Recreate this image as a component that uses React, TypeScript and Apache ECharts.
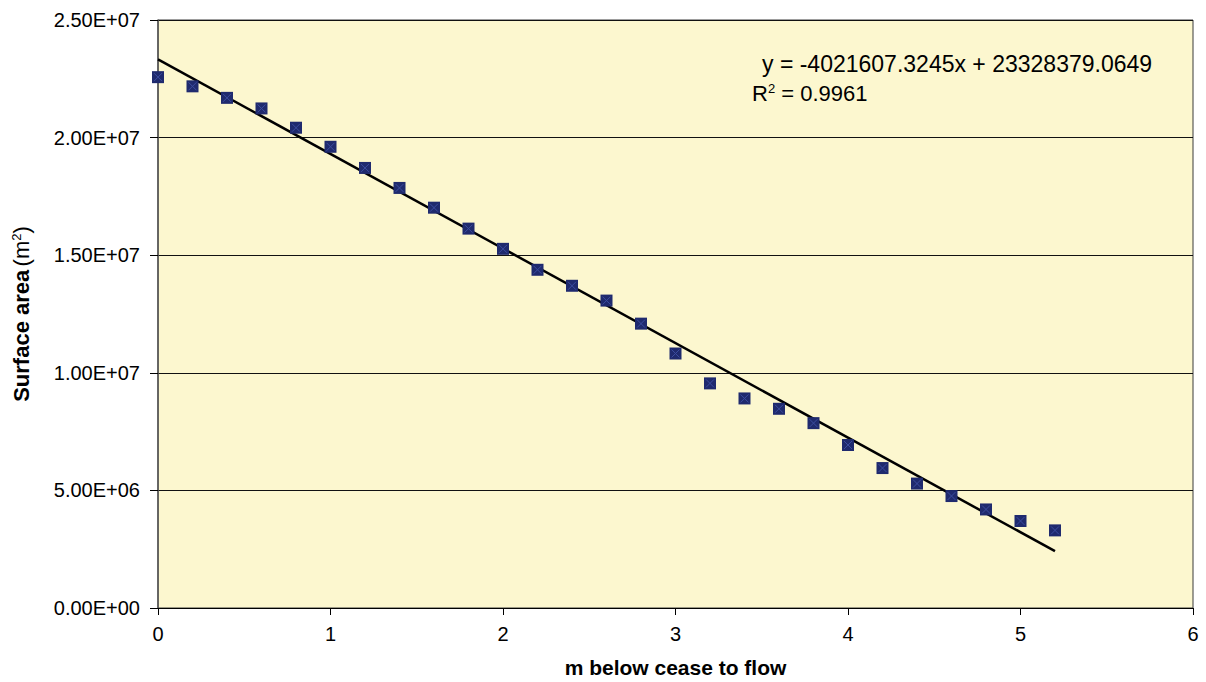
import React, { useEffect, useRef } from "react";
import * as echarts from "echarts";

const DEPTHS = [0, 0.2, 0.4, 0.6, 0.8, 1.0, 1.2, 1.4, 1.6, 1.8, 2.0, 2.2, 2.4, 2.6, 2.8, 3.0, 3.2, 3.4, 3.6, 3.8, 4.0, 4.2, 4.4, 4.6, 4.8, 5.0, 5.2];
const AREAS = [
  22570000, 22180000, 21690000, 21240000, 20420000, 19610000, 18710000, 17860000, 17020000,
  16130000, 15270000, 14380000, 13700000, 13070000, 12090000, 10820000, 9550000, 8910000,
  8470000, 7860000, 6930000, 5950000, 5290000, 4760000, 4190000, 3700000, 3300000,
];
const TREND_SLOPE = -4021607.3245;
const TREND_INTERCEPT = 23328379.0649;
const TREND_X = [0, 5.2];
const EQUATION_TEXT = "y = -4021607.3245x + 23328379.0649";
const R2_TEXT = "0.9961";
const X_TITLE = "m below cease to flow";

const FONT = "'Liberation Sans', Arial, Helvetica, sans-serif";

function sci(v: number): string {
  if (v === 0) return "0.00E+00";
  const e = Math.floor(Math.log10(Math.abs(v)) + 1e-9);
  const m = v / Math.pow(10, e);
  return m.toFixed(2) + "E" + (e < 0 ? "-" : "+") + String(Math.abs(e)).padStart(2, "0");
}

export default function App() {
  const ref = useRef<HTMLDivElement>(null);
  useEffect(() => {
    if (!ref.current) return;
    const chart = echarts.init(ref.current, null, { renderer: "svg" });
    const points = DEPTHS.map((d, i) => [d, AREAS[i]]);
    const trend = TREND_X.map((x) => [x, TREND_SLOPE * x + TREND_INTERCEPT]);
    chart.setOption({
      animation: false,
      backgroundColor: "#ffffff",
      textStyle: { fontFamily: FONT },
      grid: {
        left: 158,
        right: 13,
        top: 20,
        bottom: 74,
        outerBoundsMode: "none",
        containLabel: false,
        show: true,
        backgroundColor: "#FCF7CF",
        borderColor: "#3a3a3a",
        borderWidth: 1,
      },
      xAxis: {
        type: "value",
        min: 0,
        max: 6,
        interval: 1,
        name: X_TITLE,
        nameLocation: "middle",
        nameGap: 49,
        nameTextStyle: { fontFamily: FONT, fontSize: 21, fontWeight: "bold", color: "#000" },
        axisLine: { show: true, onZero: false, lineStyle: { color: "#000", width: 1 } },
        axisTick: { show: true, inside: false, length: 7, lineStyle: { color: "#000" } },
        axisLabel: { fontFamily: FONT, fontSize: 20, color: "#000", margin: 16 },
        splitLine: { show: false },
      },
      yAxis: {
        type: "value",
        min: 0,
        max: 25000000,
        interval: 5000000,
        name: "{b|Surface area} {n|(m}{s|2}{n|)}",
        nameLocation: "middle",
        nameRotate: 90,
        nameGap: 126,
        nameTextStyle: {
          rich: {
            b: { fontFamily: FONT, fontSize: 22, fontWeight: "bold", color: "#000" },
            n: { fontFamily: FONT, fontSize: 22, color: "#000" },
            s: { fontFamily: FONT, fontSize: 13, color: "#000", verticalAlign: "top", padding: [0, 0, 9, 0] },
          },
        },
        axisLine: { show: true, lineStyle: { color: "#555", width: 1.5 } },
        axisTick: { show: true, inside: false, length: 8, lineStyle: { color: "#000" } },
        axisLabel: { fontFamily: FONT, fontSize: 20, color: "#000", margin: 18, formatter: (v: number) => sci(v) },
        splitLine: { show: true, lineStyle: { color: "#111", width: 1.2 } },
      },
      series: [
        {
          type: "line",
          data: trend,
          showSymbol: false,
          symbol: "none",
          lineStyle: { color: "#000", width: 2.5 },
          z: 2,
        },
        {
          type: "scatter",
          data: points,
          symbol: "rect",
          symbolSize: 12,
          itemStyle: { color: "#1F2A6E", opacity: 1 },
          z: 3,
        },
        {
          type: "scatter",
          data: points,
          symbol: "path://M0 0L10 10M10 0L0 10",
          symbolSize: 8,
          itemStyle: { color: "none", borderColor: "#3B4C9E", borderWidth: 1, opacity: 1 },
          z: 4,
          silent: true,
        },
      ],
      graphic: [
        {
          type: "text",
          x: 762,
          y: 64,
          style: { text: EQUATION_TEXT, font: `23px ${FONT}`, fill: "#000", verticalAlign: "middle" },
        },
        {
          type: "text",
          x: 752,
          y: 93,
          style: {
            text: "{n|R}{s|2}{n| = " + R2_TEXT + "}",
            verticalAlign: "middle",
            rich: {
              n: { fontFamily: FONT, fontSize: 22, fill: "#000" },
              s: { fontFamily: FONT, fontSize: 13, fill: "#000", verticalAlign: "top", padding: [0, 0, 8, 0] },
            },
          },
        },
      ],
    });
    return () => chart.dispose();
  }, []);
  return (
    <div
      ref={ref}
      style={{ position: "absolute", left: 0, top: 0, width: 1206, height: 682 }}
    />
  );
}
